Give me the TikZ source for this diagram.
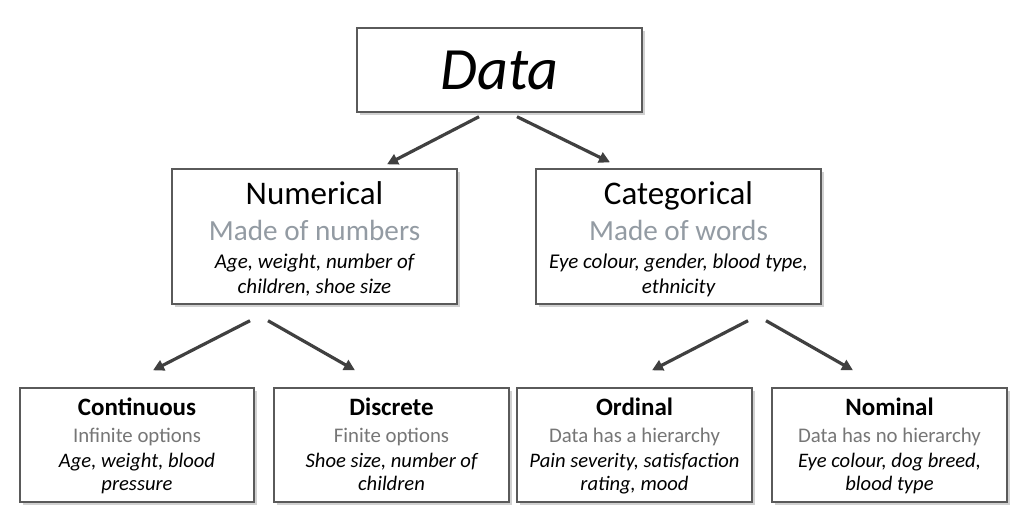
\documentclass[tikz,border=0pt]{standalone}
\usepackage{fontspec}
\setmainfont{Carlito}
\usetikzlibrary{arrows.meta,shadows,calc}
\definecolor{boxline}{HTML}{5A5A5A}
\definecolor{arrcol}{HTML}{404040}
\definecolor{subgray}{HTML}{939BA3}
\definecolor{lowgray}{HTML}{767676}
\tikzset{
  box/.style={draw=boxline, line width=1.4pt, fill=white, rectangle, inner sep=0pt,
    drop shadow={shadow xshift=2.5pt, shadow yshift=-2.5pt, fill=black!30, opacity=0.6}},
  arr/.style={draw=arrcol, line width=3.2pt, -{Triangle[length=11pt,width=11pt]}},
  txt/.style={anchor=base, inner sep=0pt, align=center},
  ttl/.style={txt, font=\fontsize{33}{33}\selectfont},
  sub/.style={txt, font=\fontsize{29.2}{29}\selectfont, text=subgray},
  ex/.style={txt, font=\fontsize{21}{25}\selectfont\itshape},
  sttl/.style={txt, font=\fontsize{25}{25}\selectfont\bfseries},
  ssub/.style={txt, font=\fontsize{20.8}{21}\selectfont, text=lowgray},
  sex/.style={txt, font=\fontsize{20.6}{23}\selectfont\itshape},
}
\begin{document}
\begin{tikzpicture}[x=1pt,y=-1pt]
\useasboundingbox (0,0) rectangle (1024,523);
% boxes
\node[box, minimum width=285pt, minimum height=84pt] (data) at (499.5,70) {};
\node[box, minimum width=285pt, minimum height=135pt] (num) at (314.5,236.5) {};
\node[box, minimum width=285pt, minimum height=135pt] (cat) at (678.5,236.5) {};
\node[box, minimum width=234pt, minimum height=114pt] (cont) at (137,445) {};
\node[box, minimum width=235pt, minimum height=114pt] (disc) at (391.5,445) {};
\node[box, minimum width=235pt, minimum height=114pt] (ord) at (634.5,445) {};
\node[box, minimum width=235pt, minimum height=114pt] (nom) at (889.5,445) {};
% texts
\node[txt, font=\fontsize{60}{60}\selectfont\itshape] (tdata) at (499.5,89) {Data};

\node[ttl] (tnum) at (314.5,204) {Numerical};
\node[sub] (snum) at (314.5,240.7) {Made of numbers};
\node[ex] (enum) at (314.5,293) {Age, weight, number of\\children, shoe size};

\node[ttl] (tcat) at (678.5,204) {Categorical};
\node[sub] (scat) at (678.5,240.7) {Made of words};
\node[ex] (ecat) at (678.5,293) {Eye colour, gender, blood type,\\ethnicity};

\node[sttl] (tcont) at (137,415) {Continuous};
\node[ssub] (scont) at (137,442.7) {Infinite options};
\node[sex] (econt) at (137,490) {Age, weight, blood\\pressure};

\node[sttl] (tdisc) at (391.5,415) {Discrete};
\node[ssub] (sdisc) at (391.5,442.7) {Finite options};
\node[sex] (edisc) at (391.5,490) {Shoe size, number of\\children};

\node[sttl] (tord) at (634.5,415) {Ordinal};
\node[ssub] (sord) at (634.5,442.7) {Data has a hierarchy};
\node[sex] (eord) at (634.5,490) {Pain severity, satisfaction\\rating, mood};

\node[sttl] (tnom) at (889.5,415) {Nominal};
\node[ssub] (snom) at (889.5,442.7) {Data has no hierarchy};
\node[sex] (enom) at (889.5,490) {Eye colour, dog breed,\\blood type};
% arrows
\draw[arr] ($(data.south)+(-20.5,4)$) -- ($(num.north)+(72.5,-4)$);
\draw[arr] ($(data.south)+(17.5,4)$) -- ($(cat.north)+(-68.5,-6)$);
\draw[arr] ($(num.south)+(-64.5,16)$) -- ($(cont.north)+(16,-17)$);
\draw[arr] ($(num.south)+(-46.5,16)$) -- ($(disc.north)+(-36.5,-17)$);
\draw[arr] ($(cat.south)+(69.5,16)$) -- ($(ord.north)+(17.5,-17)$);
\draw[arr] ($(cat.south)+(87.5,16)$) -- ($(nom.north)+(-36.5,-17)$);
\end{tikzpicture}
\end{document}
